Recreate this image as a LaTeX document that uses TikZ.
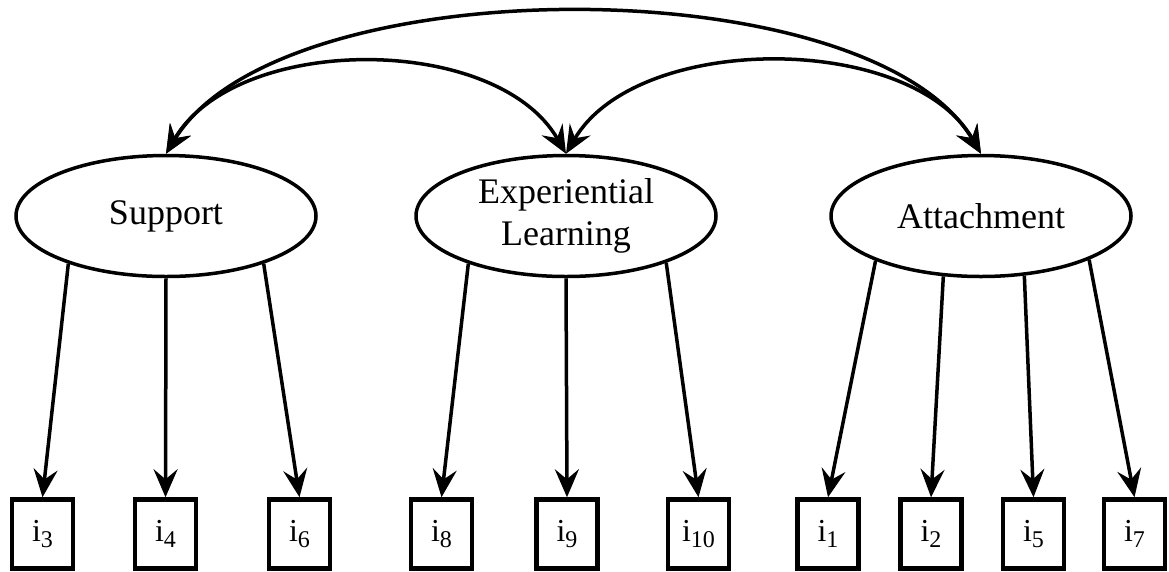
\documentclass[tikz,border=0pt]{standalone}
\usepackage{fontspec}
\setmainfont{Liberation Serif}
\usetikzlibrary{arrows.meta,shapes.geometric}
\tikzset{
  tip/.style={Stealth[length=28pt,width=24pt,inset=10pt]},
  lat/.style={draw, ellipse, line width=3.5pt, minimum width=300pt, minimum height=121pt, inner sep=0pt, align=center, font=\fontsize{36}{42}\selectfont},
  obs/.style={draw, rectangle, line width=4.5pt, minimum width=61pt, minimum height=69pt, inner sep=0pt, font=\fontsize{32}{36}\selectfont},
  load/.style={line width=3.5pt, -{Stealth[length=28pt,width=24pt,inset=10pt]}},
  cov/.style={line width=3.5pt, {Stealth[length=28pt,width=24pt,inset=10pt]}-{Stealth[length=28pt,width=24pt,inset=10pt]}}
}
\newcommand{\itm}[1]{i\raisebox{-0.2em}{\fontsize{24}{24}\selectfont #1}}
\begin{document}
\begin{tikzpicture}[x=1pt,y=-1pt]
\useasboundingbox (0,0) rectangle (1169,571);
\node[lat] (sup) at (166,216) {Support};
\node[lat] (exp) at (566,216) {Experiential\\Learning};
\node[lat] (att) at (981,216) {Attachment};

\node[obs] (i3) at (42.5,534) {\itm{3}};
\node[obs] (i4) at (165.5,534) {\itm{4}};
\node[obs] (i6) at (299.5,534) {\itm{6}};
\node[obs] (i8) at (441.5,534) {\itm{8}};
\node[obs] (i9) at (567,534) {\itm{9}};
\node[obs] (i10) at (698.5,534) {\itm{10}};
\node[obs] (i1) at (828,534) {\itm{1}};
\node[obs] (i2) at (931,534) {\itm{2}};
\node[obs] (i5) at (1033.5,534) {\itm{5}};
\node[obs] (i7) at (1134.5,534) {\itm{7}};

\draw[load] (sup.206.6) -- (i3.north);
\draw[load] (sup.south) -- (i4.north);
\draw[load] (sup.-26.1) -- (i6.north);
\draw[load] (exp.206.3) -- (i8.north);
\draw[load] (exp.south) -- (i9.north);
\draw[load] (exp.-25.7) -- (i10.north);
\draw[load] (att.203.3) -- (i1.north);
\draw[load] (att.238) -- (i2.north);
\draw[load] (att.-54.2) -- (i5.north);
\draw[load] (att.-22.9) -- (i7.north);

\draw[cov] (sup.north) .. controls (236,33) and (497,33) .. (exp.north);
\draw[cov] (exp.north) .. controls (637,32) and (911,32) .. (att.north);
\draw[cov] (sup.north) .. controls (280,-34) and (870,-34) .. (att.north);
\end{tikzpicture}
\end{document}
